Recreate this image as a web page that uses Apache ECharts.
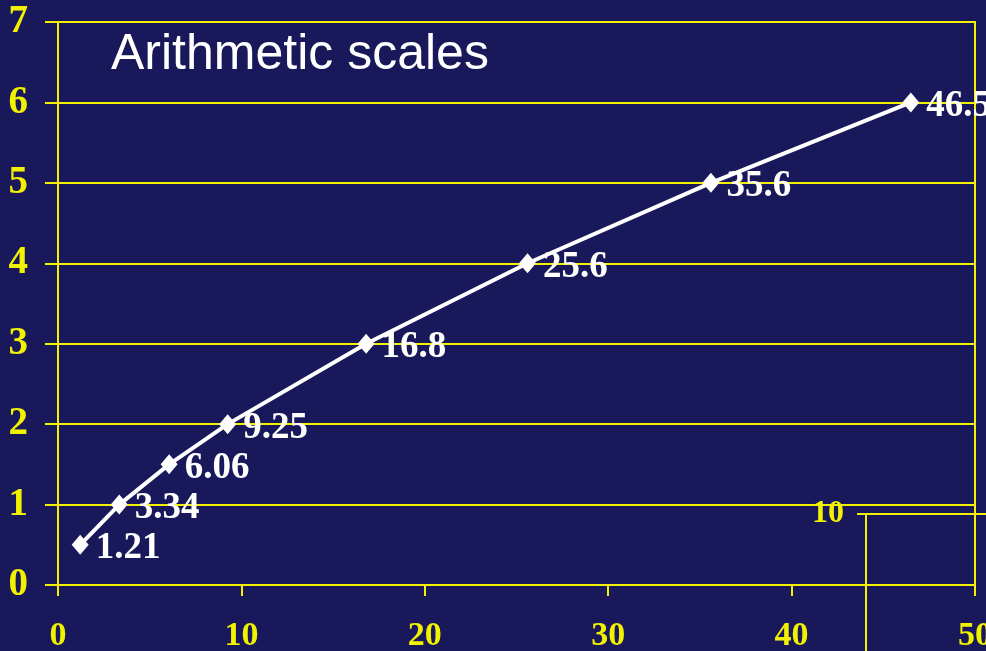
<!DOCTYPE html>
<html>
<head>
<meta charset="utf-8">
<style>
  html, body { margin: 0; padding: 0; background: #18185A; }
  #chart { width: 986px; height: 651px; }
</style>
<script src="https://cdn.jsdelivr.net/npm/echarts@6/dist/echarts.min.js"></script>
</head>
<body>
<div id="chart"></div>
<script>
// Measured values: x is the quantity, y the step number
const xValues = [1.21, 3.34, 6.06, 9.25, 16.8, 25.6, 35.6, 46.5];
const yValues = [0.5, 1, 1.5, 2, 3, 4, 5, 6];
const titleText = 'Arithmetic scales';

const yellow = '#F2F200';
const navy = '#18185A';
const serif = 'Liberation Serif, Times New Roman, serif';

const points = xValues.map((x, i) => [x, yValues[i]]);

const chart = echarts.init(document.getElementById('chart'), null, { renderer: 'canvas' });

chart.setOption({
  backgroundColor: navy,
  animation: false,
  title: {
    text: titleText,
    left: 106,
    top: 25,
    textStyle: {
      color: '#FFFFFF',
      fontFamily: 'Liberation Sans, Arial, sans-serif',
      fontWeight: 'normal',
      fontSize: 50
    }
  },
  grid: [
    {
      left: 58, top: 22, width: 917, height: 563,
      outerBoundsMode: 'none', containLabel: false,
      show: true, borderColor: yellow, borderWidth: 2, backgroundColor: 'transparent'
    },
    // partial frame of the neighbouring log-scale panel
    {
      left: 866, top: 514, width: 400, height: 300,
      outerBoundsMode: 'none', containLabel: false, show: false
    }
  ],
  xAxis: [
    {
      gridIndex: 0,
      type: 'value', min: 0, max: 50, interval: 10,
      axisLine: { show: true, lineStyle: { color: yellow, width: 2 } },
      axisTick: { show: true, length: 11, lineStyle: { color: yellow, width: 2 } },
      axisLabel: {
        color: yellow, fontFamily: serif,
        fontWeight: 'bold', fontSize: 34, margin: 34
      },
      splitLine: { show: false }
    },
    { gridIndex: 1, type: 'value', min: 0, max: 10, show: false }
  ],
  yAxis: [
    {
      gridIndex: 0,
      type: 'value', min: 0, max: 7, interval: 1,
      axisLine: { show: true, lineStyle: { color: yellow, width: 2 } },
      axisTick: { show: true, length: 13, lineStyle: { color: yellow, width: 2 } },
      axisLabel: {
        color: yellow, fontFamily: serif,
        fontWeight: 'bold', fontSize: 39, margin: 30
      },
      splitLine: { show: true, lineStyle: { color: yellow, width: 2 } }
    },
    {
      gridIndex: 1,
      type: 'value', min: 0, max: 10, interval: 10,
      axisLine: { show: true, lineStyle: { color: yellow, width: 2 } },
      axisTick: { show: true, length: 9, lineStyle: { color: yellow, width: 2 } },
      axisLabel: {
        color: yellow, fontFamily: serif,
        fontWeight: 'bold', fontSize: 32, margin: 22,
        formatter: v => (v === 10 ? '10' : '')
      },
      splitLine: { show: true, lineStyle: { color: yellow, width: 2 } }
    }
  ],
  series: [
    {
      type: 'line',
      xAxisIndex: 0, yAxisIndex: 0,
      data: points,
      symbol: 'diamond',
      symbolSize: [17, 20],
      lineStyle: { color: '#FFFFFF', width: 4 },
      itemStyle: { color: '#FFFFFF' },
      label: {
        show: true,
        position: 'right',
        distance: 7,
        offset: [0, 4],
        formatter: p => String(p.value[0]),
        color: '#FFFFFF',
        fontFamily: serif,
        fontWeight: 'bold',
        fontSize: 37
      }
    }
  ]
});
</script>
</body>
</html>
